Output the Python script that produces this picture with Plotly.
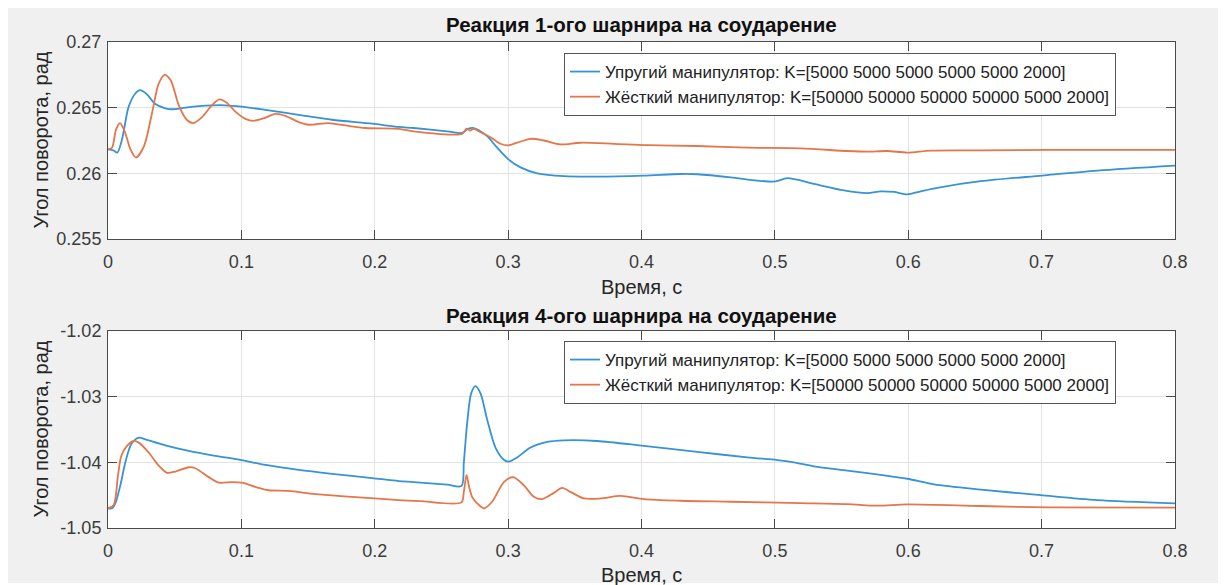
import plotly.graph_objects as go

# ---------------- data ----------------
x_ticks = [0, 0.1, 0.2, 0.3, 0.4, 0.5, 0.6, 0.7, 0.8]
x_tick_text = ["0", "0.1", "0.2", "0.3", "0.4", "0.5", "0.6", "0.7", "0.8"]
y1_ticks = [0.255, 0.26, 0.265, 0.27]
y1_tick_text = ["0.255", "0.26", "0.265", "0.27"]
y2_ticks = [-1.05, -1.04, -1.03, -1.02]
y2_tick_text = ["-1.05", "-1.04", "-1.03", "-1.02"]

name_elastic = "Упругий манипулятор: K=[5000 5000 5000 5000 5000 2000]"
name_rigid = "Жёсткий манипулятор: K=[50000 50000 50000 50000 5000 2000]"
title1 = "Реакция 1-ого шарнира на соударение"
title2 = "Реакция 4-ого шарнира на соударение"
xlabel = "Время, с"
ylabel = "Угол поворота, рад"

# Joint 1, elastic
t1e = [0, 0.004, 0.007, 0.0105, 0.0155, 0.0205, 0.024, 0.029, 0.0355, 0.043, 0.048,
       0.058, 0.073, 0.088, 0.1, 0.118, 0.143, 0.168, 0.198, 0.218, 0.2293, 0.2543,
       0.2655, 0.2698, 0.2743, 0.278, 0.2843, 0.2918, 0.3, 0.3093, 0.3218, 0.3418,
       0.3668, 0.4018, 0.4293, 0.4418, 0.4668, 0.4868, 0.5005, 0.5093, 0.5293,
       0.5518, 0.5693, 0.5793, 0.5893, 0.5993, 0.6093, 0.6218, 0.6543, 0.7005,
       0.7418, 0.8]
y1e = [0.26183, 0.26175, 0.26158, 0.26258, 0.26508, 0.26608, 0.26633, 0.26603, 0.26528,
       0.26495, 0.26488, 0.265, 0.26515, 0.26518, 0.26508, 0.26483, 0.26445, 0.26408,
       0.26378, 0.26353, 0.26345, 0.2632, 0.26308, 0.26338, 0.26345, 0.26328, 0.26283,
       0.26195, 0.26108, 0.26045, 0.26, 0.25978, 0.25975, 0.25983, 0.25995, 0.25993,
       0.2597, 0.25945, 0.25938, 0.25963, 0.2592, 0.2587, 0.2585, 0.25863, 0.25858,
       0.2584, 0.25863, 0.2589, 0.2594, 0.25983, 0.2602, 0.26058]

# Joint 1, rigid
t1r = [0, 0.003, 0.006, 0.009, 0.0125, 0.0168, 0.021, 0.027, 0.033, 0.038, 0.0425,
       0.047, 0.053, 0.059, 0.064, 0.0705, 0.078, 0.0835, 0.089, 0.0955, 0.103, 0.109,
       0.117, 0.1255, 0.133, 0.143, 0.1505, 0.1655, 0.178, 0.193, 0.218, 0.2293,
       0.2655, 0.2688, 0.2713, 0.2743, 0.2793, 0.2868, 0.2943, 0.3, 0.3068, 0.3168,
       0.3268, 0.3393, 0.3543, 0.3793, 0.4043, 0.4418, 0.4793, 0.5193, 0.5543,
       0.5693, 0.5843, 0.5993, 0.6168, 0.6543, 0.7043, 0.8]
y1r = [0.26183, 0.26195, 0.26333, 0.26383, 0.2632, 0.26183, 0.2612, 0.26208, 0.26458,
       0.26683, 0.2675, 0.26708, 0.2652, 0.26408, 0.26383, 0.26428, 0.2652, 0.26563,
       0.26538, 0.2647, 0.26415, 0.264, 0.2642, 0.26453, 0.26438, 0.2639, 0.2637,
       0.26383, 0.26365, 0.26345, 0.26338, 0.2632, 0.263, 0.2634, 0.26325, 0.26338,
       0.26313, 0.26275, 0.26225, 0.26213, 0.26233, 0.26263, 0.2625, 0.2622, 0.26233,
       0.26225, 0.26215, 0.26208, 0.26195, 0.2619, 0.2617, 0.26165, 0.2617, 0.26158,
       0.26173, 0.26175, 0.26178, 0.26178]

# Joint 4, elastic
t4e = [0, 0.003, 0.0055, 0.00925, 0.013, 0.0168, 0.0205, 0.0235, 0.028, 0.043, 0.0605,
       0.0805, 0.1, 0.118, 0.143, 0.168, 0.198, 0.218, 0.2293, 0.2543, 0.265, 0.2668,
       0.2693, 0.2723, 0.2755, 0.2793, 0.2843, 0.2905, 0.2968, 0.3005, 0.3068, 0.3168,
       0.3293, 0.3418, 0.3668, 0.4018, 0.4418, 0.4793, 0.5018, 0.5143, 0.5293, 0.5543,
       0.5793, 0.5993, 0.6193, 0.6543, 0.6993, 0.7418, 0.8]
y4e = [-1.047, -1.047, -1.04625, -1.0435, -1.04, -1.0375, -1.0365, -1.03625, -1.0365,
       -1.0374, -1.03825, -1.039, -1.03965, -1.0404, -1.04115, -1.04175, -1.0424,
       -1.04285, -1.043, -1.0434, -1.0436, -1.04, -1.034, -1.0295, -1.0284, -1.0295,
       -1.0335, -1.03775, -1.0396, -1.0399, -1.03925, -1.03775, -1.0369, -1.03665,
       -1.03675, -1.0375, -1.0384, -1.03925, -1.03965, -1.04, -1.0406, -1.04125,
       -1.0419, -1.0425, -1.04335, -1.04415, -1.045, -1.04575, -1.04625]

# Joint 4, rigid
t4r = [0, 0.00425, 0.0075, 0.01, 0.01425, 0.01925, 0.023, 0.0305, 0.038, 0.04425,
       0.0505, 0.0605, 0.0655, 0.0755, 0.083, 0.093, 0.1005, 0.1105, 0.1205, 0.1355,
       0.1555, 0.183, 0.218, 0.2343, 0.265, 0.2668, 0.2688, 0.2705, 0.273, 0.2768,
       0.2818, 0.288, 0.2968, 0.3038, 0.3118, 0.3193, 0.3255, 0.3343, 0.3405, 0.3468,
       0.3568, 0.3693, 0.3843, 0.4018, 0.4293, 0.4668, 0.5193, 0.5543, 0.5768,
       0.5993, 0.6543, 0.7043, 0.8]
y4r = [-1.047, -1.0465, -1.042, -1.039, -1.0375, -1.03675, -1.037, -1.0385, -1.0405,
       -1.0416, -1.0414, -1.04075, -1.0409, -1.04225, -1.0431, -1.043, -1.0431,
       -1.04375, -1.04425, -1.04435, -1.04485, -1.04525, -1.04575, -1.0459, -1.0461,
       -1.0445, -1.0419, -1.0435, -1.04525, -1.04625, -1.047, -1.046, -1.043, -1.04225,
       -1.0435, -1.04525, -1.0456, -1.04465, -1.0439, -1.0445, -1.0455, -1.0455,
       -1.0451, -1.0456, -1.04585, -1.046, -1.0462, -1.04635, -1.0466, -1.0464,
       -1.04665, -1.04685, -1.0469]

# ---------------- styling ----------------
BLUE = "#3593d6"
ORANGE = "#e5764a"
FONT = "Liberation Sans, Arial, sans-serif"
AXC = "#4a4a4a"
W, H = 1224, 585
ML, MR, MT, MB = 108, 49, 42, 57
PW, PH = W - ML - MR, H - MT - MB


def px_x(px):
    return (px - ML) / PW


def px_y(py):
    return (H - MB - py) / PH


fig = go.Figure()
line_kw = dict(mode="lines", line_shape="spline")
fig.add_trace(go.Scatter(x=t1e, y=y1e, name=name_elastic, line=dict(color=BLUE, width=1.8, smoothing=0.8),
                         xaxis="x", yaxis="y", legend="legend", **line_kw))
fig.add_trace(go.Scatter(x=t1r, y=y1r, name=name_rigid, line=dict(color=ORANGE, width=1.8, smoothing=0.8),
                         xaxis="x", yaxis="y", legend="legend", **line_kw))
fig.add_trace(go.Scatter(x=t4e, y=y4e, name=name_elastic, line=dict(color=BLUE, width=1.8, smoothing=0.8),
                         xaxis="x2", yaxis="y2", legend="legend2", **line_kw))
fig.add_trace(go.Scatter(x=t4r, y=y4r, name=name_rigid, line=dict(color=ORANGE, width=1.8, smoothing=0.8),
                         xaxis="x2", yaxis="y2", legend="legend2", **line_kw))

top_dom = [px_y(239), 1.0]
bot_dom = [0.0, px_y(331)]

xcommon = dict(range=[0, 0.8], tickvals=x_ticks, ticktext=x_tick_text, showgrid=True,
               gridcolor="#e3e3e3", gridwidth=1, zeroline=False, showline=True, linecolor=AXC,
               linewidth=1, mirror="ticks", ticks="inside", ticklen=9, tickcolor=AXC,
               tickfont=dict(family=FONT, size=18, color="#3c3c3c"), ticklabelstandoff=6)
ycommon = dict(showgrid=True, gridcolor="#e3e3e3", gridwidth=1, zeroline=False, showline=True,
               linecolor=AXC, linewidth=1, mirror="ticks", ticks="inside", ticklen=9,
               tickcolor=AXC, tickfont=dict(family=FONT, size=18, color="#3c3c3c"),
               ticklabelstandoff=2)

leg_font = dict(family=FONT, size=17, color="#222222")
fig.update_layout(
    width=W, height=H,
    margin=dict(l=ML, r=MR, t=MT, b=MB),
    paper_bgcolor="#f0f0f0", plot_bgcolor="white",
    xaxis=dict(domain=[0, 1], anchor="y", **xcommon),
    yaxis=dict(domain=top_dom, anchor="x", range=[0.255, 0.27], tickvals=y1_ticks,
               ticktext=y1_tick_text, **ycommon),
    xaxis2=dict(domain=[0, 1], anchor="y2", **xcommon),
    yaxis2=dict(domain=bot_dom, anchor="x2", range=[-1.05, -1.02], tickvals=y2_ticks,
                ticktext=y2_tick_text, **ycommon),
    legend=dict(x=px_x(564), y=px_y(53), xanchor="left", yanchor="top", bgcolor="white",
                bordercolor="#555555", borderwidth=1, font=leg_font, tracegroupgap=0),
    legend2=dict(x=px_x(564), y=px_y(341), xanchor="left", yanchor="top", bgcolor="white",
                 bordercolor="#555555", borderwidth=1, font=leg_font, tracegroupgap=0),
    showlegend=True,
)

ann_font = dict(family=FONT, size=20, color="#262626")
title_font = dict(family=FONT, size=20.5, color="#111111")
annotations = [
    dict(text="<b>" + title1 + "</b>", x=0.5, y=px_y(25), xref="paper", yref="paper",
         showarrow=False, font=title_font, xanchor="center", yanchor="middle"),
    dict(text="<b>" + title2 + "</b>", x=0.5, y=px_y(315), xref="paper", yref="paper",
         showarrow=False, font=title_font, xanchor="center", yanchor="middle"),
    dict(text=xlabel, x=0.5, y=px_y(287), xref="paper", yref="paper", showarrow=False,
         font=ann_font, xanchor="center", yanchor="middle"),
    dict(text=xlabel, x=0.5, y=px_y(575), xref="paper", yref="paper", showarrow=False,
         font=ann_font, xanchor="center", yanchor="middle"),
    dict(text=ylabel, x=px_x(40), y=px_y(140.5), xref="paper", yref="paper", showarrow=False,
         font=ann_font, textangle=-90, xanchor="center", yanchor="middle"),
    dict(text=ylabel, x=px_x(40), y=px_y(429.5), xref="paper", yref="paper", showarrow=False,
         font=ann_font, textangle=-90, xanchor="center", yanchor="middle"),
]
fig.update_layout(annotations=annotations)

# white outer frame around the grey figure background
frame = [
    (0, 0, W, 8),          # top
    (0, 0, 8, H),          # left
    (1218, 0, W, H),       # right
    (0, 583, W, H),        # bottom
]
shapes = []
for x0, y0, x1, y1 in frame:
    shapes.append(dict(type="rect", xref="paper", yref="paper", x0=px_x(x0), x1=px_x(x1),
                       y0=px_y(y1), y1=px_y(y0), fillcolor="white", line=dict(width=0),
                       layer="above"))
fig.update_layout(shapes=shapes)

fig.write_html("out.html")
